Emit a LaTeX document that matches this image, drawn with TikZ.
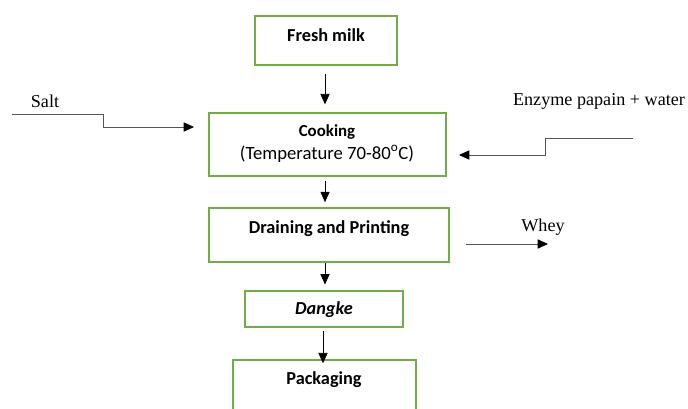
\documentclass[tikz,border=0pt]{standalone}
\usepackage{fontspec}
\setmainfont{Liberation Serif}
\newfontfamily\boxfont{Carlito}
\usetikzlibrary{arrows.meta}
\definecolor{boxgreen}{RGB}{112,173,71}
\definecolor{sidegray}{RGB}{85,85,85}
\begin{document}
\begin{tikzpicture}[x=0.025cm,y=-0.025cm]
    \tikzset{
      stepbox/.style={draw=boxgreen,line width=1.3pt,inner sep=0pt},
      boxtext/.style={font=\boxfont\bfseries,inner sep=0pt},
      flow/.style={-{Triangle[length=2.6mm,width=2.3mm]},line width=0.5pt,black},
      side/.style={-{Triangle[length=2.6mm,width=2.3mm,color=black]},line width=0.6pt,sidegray},
      sidetext/.style={font=\fontsize{12.9}{15}\selectfont,inner sep=0pt}
    }
    \clip (0,0) rectangle (688,408);

        %BOXES
        \node[stepbox,minimum width=3.55cm,minimum height=1.225cm] (milk) at (326,40.5) {};
        \node[stepbox,minimum width=5.925cm,minimum height=1.575cm] (cook) at (327.5,144.5) {};
        \node[stepbox,minimum width=6cm,minimum height=1.35cm] (drain) at (329,235) {};
        \node[stepbox,minimum width=3.95cm,minimum height=0.9cm] (dangke) at (324,309) {};
        \node[stepbox,minimum width=4.575cm,minimum height=1.75cm] (pack) at (324.5,395) {};

        %TEXTS IN BOXES
        \node[boxtext,font=\boxfont\bfseries\fontsize{13}{15}\selectfont] (tmilk) at (326,35) {Fresh milk};
        \node[boxtext,font=\boxfont\bfseries\fontsize{12}{14}\selectfont] (tcook) at (327,132) {Cooking};
        \node[boxtext,font=\boxfont\fontsize{13.3}{15}\selectfont] (ttemp) at (327,154) {(Temperature 70-80\textsuperscript{o}C)};
        \node[boxtext,font=\boxfont\bfseries\fontsize{13}{15}\selectfont] (tdrain) at (329,229) {Draining and Printing};
        \node[boxtext,font=\boxfont\bfseries\itshape\fontsize{13}{15}\selectfont] (tdangke) at (324,310) {Dangke};
        \node[boxtext,font=\boxfont\bfseries\fontsize{13}{15}\selectfont] (tpack) at (324,380) {Packaging};

        %MAIN FLOW
        \draw[flow,shorten <=5.5pt,shorten >=5.5pt] (milk.south -| 325,0) -- (cook.north -| 325,0);
        \draw[flow,shorten <=3pt,shorten >=3.5pt] (cook.south -| 325,0) -- (drain.north -| 325,0);
        \draw[flow,shorten >=4pt] (drain.south -| 325,0) -- (dangke.north -| 325,0);
        \draw[flow,shorten <=2pt,shorten >=-3pt] (dangke.south -| 323,0) -- (pack.north -| 323,0);

        %SIDE INPUTS
        \node[sidetext] (salt) at (45,101) {Salt};
        \node[sidetext] (enzyme) at (599,101) {Enzyme papain + water};
        \node[sidetext] (whey) at (543,227) {Whey};

        \coordinate (s0) at (12,114);
        \coordinate (e0) at (633,138);
        \coordinate (w1) at (548,244);

        \draw[side] (s0) -- ++(91,0) |- ([shift={(-14,-17.5)}]cook.west);
        \draw[side] (e0) -- ++(-88,0) |- ([shift={(12,10.5)}]cook.east);
        \draw[side] ([shift={(16,9)}]drain.east) -- (w1);
\end{tikzpicture}
\end{document}
